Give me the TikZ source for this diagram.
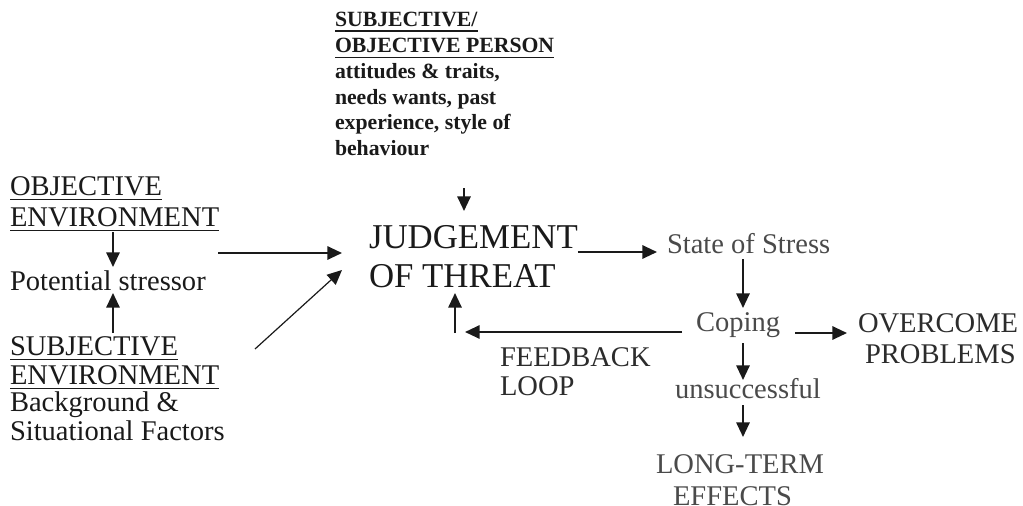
\documentclass[tikz,border=0pt]{standalone}
\usepackage{fontspec}
\setmainfont{Liberation Serif}
\usetikzlibrary{calc,arrows.meta}

\definecolor{ink}{HTML}{1A1A1A}
\definecolor{darkink}{HTML}{2C2C2C}
\definecolor{greyink}{HTML}{4A4A4A}

\tikzset{
  txt/.style={anchor=base west, inner sep=0pt, outer sep=0pt, text=ink,
              font=\fontsize{21.4}{25}\selectfont},
  dtxt/.style={txt, text=darkink},
  gtxt/.style={txt, text=greyink},
  bigtxt/.style={txt, font=\fontsize{26.1}{30}\selectfont},
  toptxt/.style={txt, font=\fontsize{16.3}{20}\selectfont\bfseries},
  arr/.style={draw=ink, line width=1.5pt,
              -{Triangle[length=11pt,width=10pt]}},
  thinarr/.style={arr, line width=0.9pt},
  uline/.style={draw=ink, line width=1.2pt}
}

\begin{document}
\begin{tikzpicture}[x=0.75pt,y=-0.75pt]
\useasboundingbox[fill=white] (0,0) rectangle (1023,506);

% person factors (top)
\node[toptxt] (top1) at (335,27)  {SUBJECTIVE/};
\node[toptxt] (top2) at (335,53)  {OBJECTIVE PERSON};
\node[toptxt] (top3) at (335,79)  {attitudes \& traits,};
\node[toptxt] (top4) at (335,105) {needs wants, past};
\node[toptxt] (top5) at (335,130) {experience, style of};
\node[toptxt] (top6) at (335,156) {behaviour};
\draw[uline] ($(top1.base west)+(0,4)$) -- ($(top1.base east)+(0,4)$);
\draw[uline] ($(top2.base west)+(0,4.5)$) -- ($(top2.base east)+(0,4.5)$);

% environment (left)
\node[txt] (obj1) at (10,195) {OBJECTIVE};
\node[txt] (obj2) at (10,226) {ENVIRONMENT};
\node[txt] (pot)  at (10,290) {Potential stressor};
\node[txt] (sub1) at (10,355) {SUBJECTIVE};
\node[txt] (sub2) at (10,384) {ENVIRONMENT};
\node[txt] (bg1)  at (10,411) {Background \&};
\node[txt] (bg2)  at (10,440) {Situational Factors};
\foreach \n in {obj1,obj2,sub1,sub2}
  \draw[uline] ($(\n.base west)+(0,4.5)$) -- ($(\n.base east)+(0,4.5)$);

% appraisal
\node[bigtxt] (judge1) at (369,248) {JUDGEMENT};
\node[bigtxt] (judge2) at (369,287) {OF THREAT};

% stress and coping
\node[gtxt] (stress) at (667,253) {State of Stress};
\node[gtxt] (coping) at (696,331) {Coping};
\node[dtxt] (over1)  at (858,332) {OVERCOME};
\node[dtxt] (over2)  at (865,363) {PROBLEMS};
\node[dtxt] (fb1)    at (500,366) {FEEDBACK};
\node[dtxt] (fb2)    at (500,395) {LOOP};
\node[gtxt] (unsucc) at (675,398) {unsuccessful};
\node[gtxt] (lt1)    at (656,473) {LONG-TERM};
\node[gtxt] (lt2)    at (673,505) {EFFECTS};

% connectors
\draw[arr] ($(obj2.base west)+(103,6)$) -- ($(pot.base west)+(103,-23)$);
\draw[arr] ($(sub1.base west)+(103,-22)$) -- ($(pot.base west)+(103,3)$);
\draw[arr] ($(pot.base west)+(208,-37)$) -- ($(judge1.base west)+(-27,5)$);
\draw[thinarr] ($(sub1.base west)+(245,-6)$) -- ($(judge2.base west)+(-27,-17)$);
\draw[arr] ($(top6.base west)+(129,32)$) -- ($(judge1.base west)+(95,-37)$);
\draw[arr] ($(judge1.base east)+(0,4)$) -- ($(stress.base west)+(-10,-1)$);
\draw[arr] ($(stress.base west)+(76,6)$) -- ($(coping.base west)+(47,-23)$);
\draw[arr] ($(coping.base east)+(15,2)$) -- ($(over1.base west)+(-11,1)$);
\draw[arr] ($(coping.base west)+(-14,1)$) -- ($(fb1.base west)+(-35,-34)$);
\draw[arr] ($(fb1.base west)+(-45,-33)$) -- ($(judge2.base west)+(86,6)$);
\draw[arr] ($(coping.base west)+(47,12)$) -- ($(unsucc.base west)+(68,-18)$);
\draw[arr] ($(unsucc.base west)+(68,7)$) -- ($(lt1.base west)+(87,-36)$);
\end{tikzpicture}
\end{document}
